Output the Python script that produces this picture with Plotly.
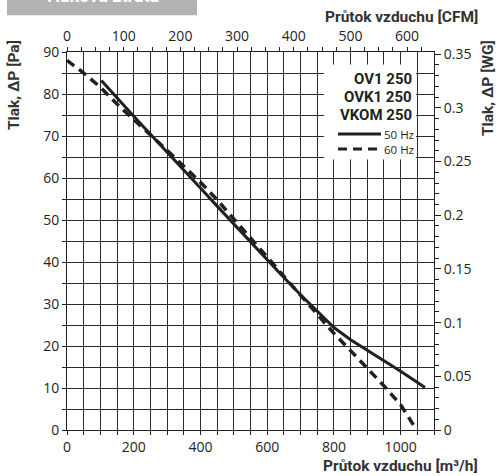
import plotly.graph_objects as go

# ---- data ----
flow_50hz = [103, 150, 200, 250, 300, 350, 400, 450, 500, 550, 600, 650, 700, 750, 800, 850, 900, 950, 1000, 1050, 1073]
pres_50hz = [83.2, 79.0, 74.7, 70.4, 66.2, 61.9, 57.6, 53.3, 49.0, 44.8, 40.5, 36.3, 32.2, 28.2, 24.4, 21.5, 18.9, 16.5, 14.0, 11.4, 10.1]

flow_60hz = [0, 50, 100, 150, 200, 250, 300, 350, 400, 450, 500, 550, 600, 650, 700, 750, 800, 850, 900, 950, 1000, 1048]
pres_60hz = [88.0, 85.0, 81.6, 77.6, 73.9, 70.3, 66.6, 62.8, 59.0, 54.8, 50.3, 45.7, 41.2, 36.6, 32.0, 27.5, 23.0, 18.9, 14.8, 10.5, 6.0, 0.0]

x_ticks_m3h = [0, 200, 400, 600, 800, 1000]
x_ticks_cfm = [0, 100, 200, 300, 400, 500, 600]
y_ticks_pa = [0, 10, 20, 30, 40, 50, 60, 70, 80, 90]
y_ticks_wg = [0, 0.05, 0.1, 0.15, 0.2, 0.25, 0.3, 0.35]

models = ["OV1 250", "OVK1 250", "VKOM 250"]
series_names = ["50 Hz", "60 Hz"]

M3H_PER_CFM = 1.69901
X_MAX = 1100
Y_MAX = 90
WG_MAX = 0.352
PA_PER_WG = Y_MAX / WG_MAX

INK = "#231f20"
GRID = "#2b2b2b"

# geometry (pixels)
W, H = 497, 476
L, R, T, B = 67, 63, 52, 46
PW, PH = W - L - R, H - T - B


def px(xp):
    return (xp - L) / PW


def py(yp):
    return (H - B - yp) / PH


fig = go.Figure()

fig.add_trace(go.Scatter(x=flow_50hz, y=pres_50hz, mode="lines", name=series_names[0],
                         line=dict(color=INK, width=3), showlegend=False, hoverinfo="skip"))
fig.add_trace(go.Scatter(x=flow_60hz, y=pres_60hz, mode="lines", name=series_names[1],
                         line=dict(color=INK, width=3.5, dash="9px,6px"), showlegend=False, hoverinfo="skip"))
# same 60 Hz curve in CFM / inWG units, transparent, so the secondary axes are drawn
fig.add_trace(go.Scatter(x=[f / M3H_PER_CFM for f in flow_60hz], y=[p / PA_PER_WG for p in pres_60hz],
                         xaxis="x2", yaxis="y2", mode="lines", opacity=0,
                         line=dict(color=INK, width=1), showlegend=False, hoverinfo="skip"))

tickfont = dict(family="Open Sans, Noto Sans, sans-serif", size=14, color=INK)

fig.update_layout(
    width=W, height=H,
    margin=dict(l=L, r=R, t=T, b=B),
    paper_bgcolor="white", plot_bgcolor="white",
    showlegend=False,
    xaxis=dict(range=[0, X_MAX], tickvals=x_ticks_m3h, ticks="outside", ticklen=4, tickwidth=1,
               tickcolor=INK, showline=True, linecolor=INK, linewidth=1, zeroline=False,
               showgrid=True, gridcolor=GRID, gridwidth=1,
               minor=dict(dtick=50, tick0=0, ticks="outside", ticklen=4, tickcolor=INK,
                          showgrid=True, gridcolor=GRID, gridwidth=1),
               tickfont=tickfont, fixedrange=True),
    yaxis=dict(range=[0, Y_MAX], tickvals=y_ticks_pa, ticks="outside", ticklen=4, tickwidth=1,
               tickcolor=INK, showline=True, linecolor=INK, linewidth=1, zeroline=False,
               showgrid=True, gridcolor=GRID, gridwidth=1,
               minor=dict(dtick=5, tick0=0, ticks="outside", ticklen=4, tickcolor=INK,
                          showgrid=True, gridcolor=GRID, gridwidth=1),
               tickfont=tickfont, fixedrange=True),
    xaxis2=dict(range=[0, X_MAX / M3H_PER_CFM], overlaying="x", side="top", anchor="y",
                tickvals=x_ticks_cfm, ticks="outside", ticklen=4, tickcolor=INK,
                showline=True, linecolor=INK, linewidth=1, showgrid=False, zeroline=False,
                minor=dict(dtick=25, tick0=0, ticks="outside", ticklen=4, tickcolor=INK, showgrid=False),
                tickfont=tickfont, fixedrange=True),
    yaxis2=dict(range=[0, WG_MAX], overlaying="y", side="right", anchor="x",
                tickvals=y_ticks_wg, ticktext=[f"{v:g}" for v in y_ticks_wg],
                ticks="outside", ticklen=6, tickcolor=INK,
                showline=True, linecolor=INK, linewidth=1, showgrid=False, zeroline=False,
                minor=dict(dtick=0.01, tick0=0, ticks="outside", ticklen=4, tickcolor=INK, showgrid=False),
                tickfont=tickfont, fixedrange=True),
)

shapes = []
annotations = []

# header box "Tlaková ztráta" (clipped at top of page)
shapes.append(dict(type="rect", xref="paper", yref="paper", x0=px(7), x1=px(197), y0=py(15.3), y1=py(-5),
                   fillcolor="#b3b3b3", line=dict(width=0), layer="above"))
annotations.append(dict(text="<b>Tlaková ztráta</b>", xref="paper", yref="paper", x=px(102), y=py(-4.5),
                        xanchor="center", yanchor="middle", showarrow=False,
                        font=dict(family="Roboto, sans-serif", size=18, color="white")))

# legend box
shapes.append(dict(type="rect", xref="x", yref="y", x0=770, x1=1046, y0=64.4, y1=87.0,
                   fillcolor="white", line=dict(width=0), layer="above"))
model_font = dict(family="Roboto, sans-serif", size=15, color=INK)
for name, yp in zip(models, [79, 97, 115]):
    annotations.append(dict(text=f"<b>{name}</b>", xref="paper", yref="paper", x=px(414), y=py(yp),
                            xanchor="right", yanchor="middle", showarrow=False, font=model_font))
for name, yp, dash in zip(series_names, [134, 149], ["solid", "9px,6px"]):
    shapes.append(dict(type="line", xref="paper", yref="paper", x0=px(338), x1=px(381), y0=py(yp), y1=py(yp),
                       line=dict(color=INK, width=3, dash=dash), layer="above"))
    annotations.append(dict(text=name, xref="paper", yref="paper", x=px(416), y=py(yp),
                            xanchor="right", yanchor="middle", showarrow=False,
                            font=dict(family="Open Sans, sans-serif", size=11.5, color=INK)))

axis_title_font = dict(family="Roboto, sans-serif", size=15.5, color="#333333")
annotations.append(dict(text="<b>Tlak, ΔP [Pa]</b>", xref="paper", yref="paper", x=px(14), y=py(85),
                        xanchor="center", yanchor="middle", textangle=-90, showarrow=False, font=axis_title_font))
annotations.append(dict(text="<b>Tlak, ΔP [WG]</b>", xref="paper", yref="paper", x=px(488), y=py(88),
                        xanchor="center", yanchor="middle", textangle=-90, showarrow=False, font=axis_title_font))
annotations.append(dict(text="<b>Průtok vzduchu [CFM]</b>", xref="paper", yref="paper", x=px(480), y=py(17),
                        xanchor="right", yanchor="middle", showarrow=False, font=axis_title_font))
annotations.append(dict(text="<b>Průtok vzduchu [m³/h]</b>", xref="paper", yref="paper", x=px(480), y=py(466),
                        xanchor="right", yanchor="middle", showarrow=False, font=axis_title_font))

fig.update_layout(shapes=shapes, annotations=annotations)

fig.write_html("out.html", config={"displayModeBar": False, "staticPlot": True},
               post_script="document.body.style.margin='0px';document.body.style.overflow='hidden';")
